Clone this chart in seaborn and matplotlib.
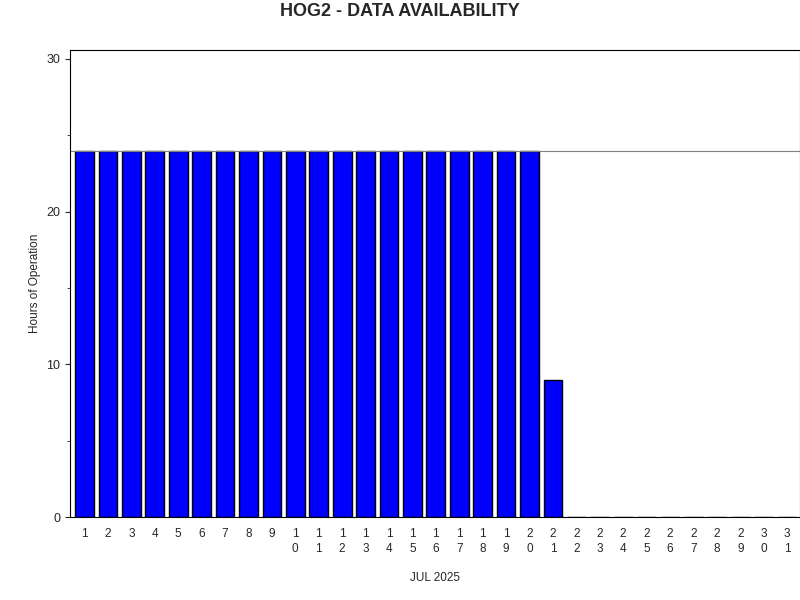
import matplotlib.pyplot as plt
import seaborn as sns
import pandas as pd

# -----------------------------
# Data
# -----------------------------
days = list(range(1, 32))
hours = [24] * 20 + [9] + [0] * 10
tick_labels = ["\n".join(str(d)) for d in days]

df = pd.DataFrame({"day": [str(d) for d in days], "hours": hours})

# -----------------------------
# Plot
# -----------------------------
sns.set_style("ticks")
plt.rcParams["font.family"] = ["Liberation Sans", "DejaVu Sans"]

fig = plt.figure(figsize=(8, 6), dpi=100)
ax = fig.add_axes([0.0875, 0.138, 0.9125, 0.779])

sns.barplot(data=df, x="day", y="hours", color="#0000ff", saturation=1,
            edgecolor="black", linewidth=1, width=0.8, ax=ax)

ax.axhline(24, color="gray", linewidth=0.8)
ax.set_ylim(0, 30.6)
ax.set_xlim(-0.62, 30.55)
ax.set_yticks([0, 10, 20, 30])
ax.set_yticks([5, 15, 25], minor=True)
ax.set_xticks(range(len(days)))
ax.set_xticklabels(tick_labels, fontsize=8.5, linespacing=1.3)
ax.tick_params(axis="y", labelsize=9)
ax.tick_params(axis="x", length=0, pad=8)

for s in ax.spines.values():
    s.set_color("black")
    s.set_linewidth(0.8)

ax.set_xlabel("JUL 2025", fontsize=8.5, labelpad=12)
ax.set_ylabel("Hours of Operation", fontsize=8.5)
fig.suptitle("HOG2 - DATA AVAILABILITY", fontsize=13, fontweight="bold", y=0.995)

plt.savefig("out.png", dpi=100)
